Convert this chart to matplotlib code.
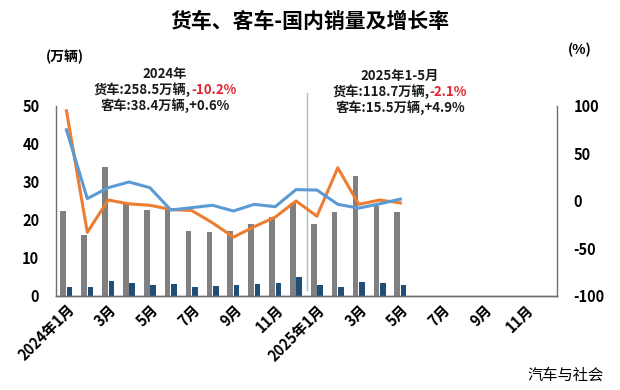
import matplotlib
matplotlib.use("Agg")
import matplotlib.pyplot as plt
import numpy as np

plt.rcParams['font.family'] = ['Noto Sans CJK SC', 'DejaVu Sans']
plt.rcParams['axes.unicode_minus'] = False

months = ["2024年1月", "2月", "3月", "4月", "5月", "6月", "7月", "8月", "9月", "10月", "11月", "12月",
          "2025年1月", "2月", "3月", "4月", "5月", "6月", "7月", "8月", "9月", "10月", "11月", "12月"]
truck_sales = [22.4, 16.1, 33.9, 24.6, 22.6, 22.5, 17.2, 16.9, 17.2, 19.0, 20.8, 24.4,
               19.0, 22.2, 31.6, 23.8, 22.1]
bus_sales = [2.4, 2.5, 4.0, 3.5, 3.0, 3.1, 2.5, 2.7, 3.0, 3.1, 3.5, 5.0,
             2.8, 2.5, 3.8, 3.4, 3.0]
truck_growth = [95, -33, 1, -3, -4.5, -9, -10, -23, -38, -27, -17, 0,
                -16, 35, -3.5, 1, -2]
bus_growth = [75, 2.5, 14, 20, 14, -9.5, -7, -4.5, -10.5, -3.5, -6, 12,
              11.5, -3.5, -7.5, -3, 2]

GRAY = "#808080"
DARK = "#1F4E79"
ORANGE = "#ED7D31"
BLUE = "#5B9BD5"

fig = plt.figure(figsize=(6.2, 3.9), dpi=100)
ax = fig.add_axes([56/620, 1-296/390, (557-56)/620, (296-106)/390])
ax2 = ax.twinx()

x_all = np.arange(len(months))
xd = np.arange(len(truck_sales))
w = 0.27
ax.bar(xd - 0.15, truck_sales, width=w, color=GRAY, zorder=2)
ax.bar(xd + 0.15, bus_sales, width=w, color=DARK, zorder=2)
ax.set_xlim(-0.5, len(months) - 0.5)
ax.set_ylim(0, 50)
ax.set_yticks([0, 10, 20, 30, 40, 50])

ax2.plot(xd, truck_growth, color=ORANGE, lw=2.2, zorder=3)
ax2.plot(xd, bus_growth, color=BLUE, lw=2.2, zorder=3)
ax2.set_ylim(-100, 100)
ax2.set_yticks([-100, -50, 0, 50, 100])

# separator line
ax.axvline(11.5, ymin=0.03, ymax=1.07, color="#9DBFE0", lw=1, clip_on=False, zorder=1)

for a in (ax, ax2):
    a.spines['top'].set_visible(False)
    for s in ('left', 'right', 'bottom'):
        a.spines[s].set_color("#6E6E6E")
        a.spines[s].set_linewidth(1.0)
    a.tick_params(length=0)
ax2.spines['left'].set_visible(False)
ax.spines['right'].set_visible(False)

for lab in ax.get_yticklabels():
    lab.set_fontweight('bold'); lab.set_fontsize(10.5)
for lab in ax2.get_yticklabels():
    lab.set_fontweight('bold'); lab.set_fontsize(10.5)
ax.tick_params(axis='y', pad=12)
ax2.tick_params(axis='y', pad=12)

tick_pos = x_all[::2]
ax.set_xticks(tick_pos)
ax.set_xticklabels([months[i] for i in tick_pos], rotation=45, ha='right',
                   rotation_mode='anchor', fontsize=10.5, fontweight='bold')
ax.tick_params(axis='x', pad=4)

fig.text(0.5, 1-22/390, "货车、客车-国内销量及增长率", ha='center', va='center',
         fontsize=15, fontweight='bold')
fig.text(65/620, 1-57/390, "(万辆)", ha='center', va='center', fontsize=10, fontweight='bold')
fig.text(580/620, 1-50/390, "(%)", ha='center', va='center', fontsize=10, fontweight='bold')
fig.text(566/620, 1-375/390, "汽车与社会", ha='center', va='center', fontsize=11)

fig.canvas.draw()
renderer = fig.canvas.get_renderer()

def colored_line(xc, yc, parts, fs=9.5):
    texts = []
    for s, c in parts:
        t = fig.text(0, yc, s, color=c, fontsize=fs, fontweight='bold', ha='left', va='center')
        texts.append(t)
    widths = [t.get_window_extent(renderer).width / fig.bbox.width for t in texts]
    total = sum(widths)
    x = xc - total / 2
    for t, wd in zip(texts, widths):
        t.set_x(x)
        x += wd

RED = "#E0262F"
BLK = "#1A1A1A"
c1 = 165/620
colored_line(c1, 1-74/390, [("2024年", BLK)])
colored_line(c1, 1-90/390, [("货车:258.5万辆,", BLK), ("-10.2%", RED)])
colored_line(c1, 1-106/390, [("客车:38.4万辆,+0.6%", BLK)])
c2 = 400/620
colored_line(c2, 1-76/390, [("2025年1-5月", BLK)])
colored_line(c2, 1-92/390, [("货车:118.7万辆,", BLK), ("-2.1%", RED)])
colored_line(c2, 1-108/390, [("客车:15.5万辆,+4.9%", BLK)])

fig.savefig("out.png", dpi=100)
